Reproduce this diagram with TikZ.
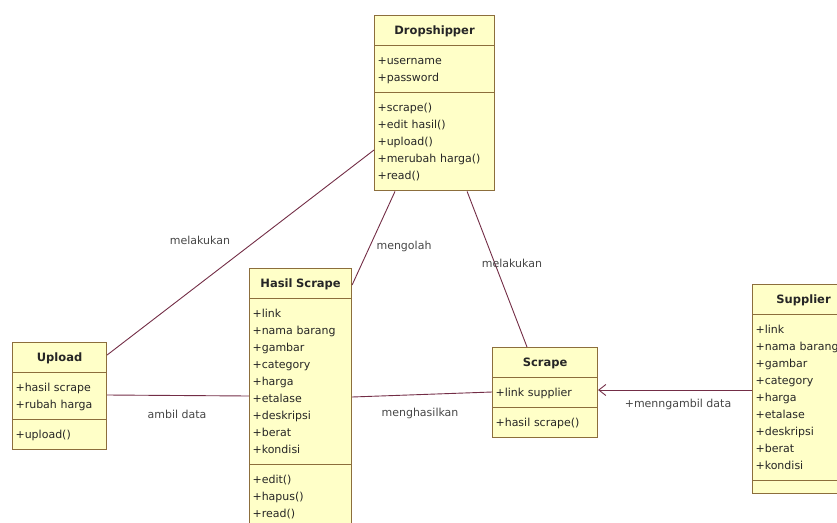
\documentclass[tikz,border=0pt]{standalone}
\usepackage{fontspec}
\setmainfont{DejaVu Sans}
\usepackage{tikz}
\usetikzlibrary{arrows.meta, shapes}
\tikzset{>=latex}
\usepackage{xcolor}
\definecolor{classfill}{RGB}{255,255,200}
\definecolor{classline}{RGB}{140,110,60}
\definecolor{assocline}{RGB}{115,45,70}
\definecolor{labeltext}{RGB}{70,70,70}
\newcommand{\umltitle}[1]{\makebox[\linewidth][c]{\fontsize{11.5}{17}\selectfont\bfseries\strut #1}}
\tikzstyle{umlclass} = [draw=classline, fill=classfill, line width=1.1pt, rectangle split, rectangle split parts=3, anchor=north west, align=left, inner xsep=3pt, inner ysep=6pt, font=\fontsize{11}{17}\selectfont, text=black!85]
\tikzstyle{line} = [draw=assocline, line width=0.9pt]
\tikzstyle{navline} = [line, -{Straight Barb[length=7pt, width=11pt]}]
\tikzstyle{linklabel} = [text=labeltext, font=\fontsize{11}{13}\selectfont]

\begin{document}
\begin{tikzpicture}[x=1pt, y=-1pt]
                \useasboundingbox (0,0) rectangle (837,522);
                \clip (0,0) rectangle (837,522);

                % Create Classes

                \node [umlclass, text width=114pt] (drop) at (374,15) {\umltitle{Dropshipper}
                    \nodepart{two}\strut+username\\+password\strut
                    \nodepart{three}\strut+scrape()\\+edit hasil()\\+upload()\\+merubah harga()\\+read()\strut};
                \node [umlclass, text width=96pt] (hasil) at (249,268) {\umltitle{Hasil Scrape}
                    \nodepart{two}\strut+link\\+nama barang\\+gambar\\+category\\+harga\\+etalase\\+deskripsi\\+berat\\+kondisi\strut
                    \nodepart{three}\strut+edit()\\+hapus()\\+read()\strut};
                \node [umlclass, text width=88pt] (upload) at (12,342) {\umltitle{Upload}
                    \nodepart{two}\strut+hasil scrape\\+rubah harga\strut
                    \nodepart{three}\strut+upload()\strut};
                \node [umlclass, text width=99pt] (scrape) at (492,347) {\umltitle{Scrape}
                    \nodepart{two}\strut+link supplier\strut
                    \nodepart{three}\strut+hasil scrape()\strut};
                \node [umlclass, text width=96pt] (supp) at (752,284) {\umltitle{Supplier}
                    \nodepart{two}\strut+link\\+nama barang\\+gambar\\+category\\+harga\\+etalase\\+deskripsi\\+berat\\+kondisi\strut
                    \nodepart{three}};

                % Add Associations
                \path [line] ([yshift=-13pt]upload.north east) -- ([yshift=-135pt]drop.north west);
                \path [line] ([yshift=-53pt]upload.north east) -- ([yshift=-128pt]hasil.north west);
                \path [line] ([yshift=-17pt]hasil.north east) -- ([xshift=21pt]drop.south west);
                \path [line] ([xshift=-28pt]drop.south east) -- ([xshift=35pt]scrape.north west);
                \path [line] ([yshift=-129pt]hasil.north east) -- ([yshift=-45pt]scrape.north west);
                \path [navline] ([yshift=-106pt]supp.north west) -- ([yshift=-43pt]scrape.north east);

                % Add Labels
                \node [linklabel] (lblupdrop) at (200,240) {melakukan};
                \node [linklabel] (lbluphasil) at (177,414) {ambil data};
                \node [linklabel] (lblhasildrop) at (404,246) {mengolah};
                \node [linklabel] (lbldropscrape) at (512,263) {melakukan};
                \node [linklabel] (lblhasilscrape) at (420,413) {menghasilkan};
                \node [linklabel] (lblsuppscrape) at (678,404) {+menngambil data};
            \end{tikzpicture}
\end{document}
